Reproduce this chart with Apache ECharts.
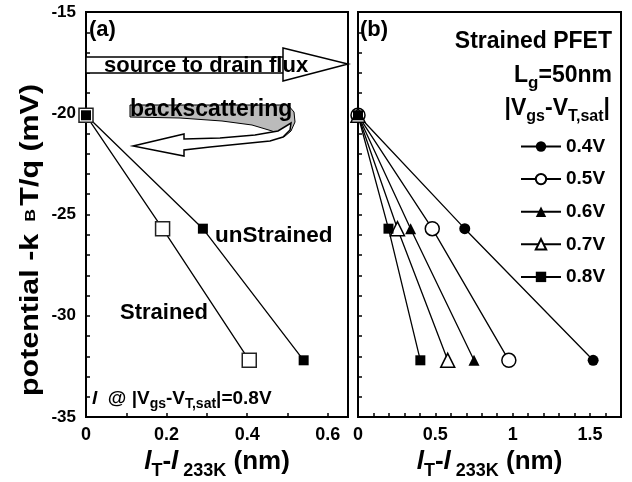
<!DOCTYPE html>
<html style="height: 100%">
	<head>
		<meta charset="utf-8">
	</head>
	<body style="height: 100%; margin: 0; background: #fff">
		<div id="container" style="width: 632px; height: 482px"></div>

		<script type="text/javascript" src="https://cdn.jsdelivr.net/npm/echarts@6/dist/echarts.min.js"></script>
		<script type="text/javascript">
			// potential levels (mV), shared by every curve
			const potential = [-20.1, -25.7, -32.2];
			// panel (a): lT - l233K (nm)
			const xStrained = [0, 0.19, 0.405];
			const xUnstrained = [0, 0.29, 0.54];
			// panel (b): strained PFET at several |Vgs-VT,sat|
			const vLabels = ['0.4V', '0.5V', '0.6V', '0.7V', '0.8V'];
			const x04 = [0, 0.69, 1.52];
			const x05 = [0, 0.48, 0.975];
			const x06 = [0, 0.34, 0.75];
			const x07 = [0, 0.255, 0.58];
			const x08 = [0, 0.197, 0.403];

			var dom = document.getElementById('container');
			var myChart = echarts.init(dom);
			var option;

			const FONT = 'Liberation Sans, Arial, sans-serif';

			function pairs(xs) {
				return xs.map(function (x, i) {
					return [x, potential[i]];
				});
			}

			function near(v, step) {
				return Math.abs(v / step - Math.round(v / step)) < 1e-6;
			}

			const filled = { color: '#000' };
			const open = { color: '#fff', borderColor: '#000', borderWidth: 1.5 };

			function mkSeries(name, xs, idx, symbol, size, style) {
				return {
					type: 'line',
					name: name,
					xAxisIndex: idx,
					yAxisIndex: idx,
					data: pairs(xs),
					symbol: symbol,
					symbolSize: size,
					showAllSymbol: true,
					clip: false,
					lineStyle: { color: '#000', width: 1.3 },
					itemStyle: style,
					emphasis: { disabled: true },
					animation: false
				};
			}

			const subRich = function (size, sub, lift) {
				return {
					n: { fontFamily: FONT, fontWeight: 'bold', fontSize: size, verticalAlign: 'bottom', padding: [0, 0, lift, 0] },
					i: { fontFamily: FONT, fontWeight: 'bold', fontStyle: 'italic', fontSize: size, verticalAlign: 'bottom', padding: [0, 0, lift, 0] },
					s: { fontFamily: FONT, fontWeight: 'bold', fontSize: sub, verticalAlign: 'bottom' }
				};
			};

			function mkX(idx, max, step) {
				return {
					gridIndex: idx,
					type: 'value',
					min: 0,
					max: max,
					interval: 0.1,
					name: '{i|l}{s|T}{n|-}{i|l}{s| 233K}{n| (nm)}',
					nameLocation: 'middle',
					nameGap: 29,
					nameTextStyle: { rich: subRich(26, 18, 5) },
					axisLine: { onZero: false, lineStyle: { color: '#000', width: 2 } },
					axisTick: { inside: true, length: 4, lineStyle: { color: '#000', width: 1.5 } },
					splitLine: { show: false },
					axisLabel: {
						color: '#000',
						fontFamily: FONT,
						fontWeight: 'bold',
						fontSize: 18,
						margin: 9,
						showMaxLabel: false,
						formatter: function (v) {
							return near(v, step) ? String(+v.toFixed(2)) : '';
						}
					}
				};
			}

			function mkY(idx, labels) {
				return {
					gridIndex: idx,
					type: 'value',
					min: -35,
					max: -15,
					interval: 1,
					axisLine: { onZero: false, lineStyle: { color: '#000', width: 2 } },
					axisTick: { inside: true, length: 4, lineStyle: { color: '#000', width: 1.5 } },
					splitLine: { show: false },
					axisLabel: {
						show: labels,
						color: '#000',
						fontFamily: FONT,
						fontWeight: 'bold',
						fontSize: 17,
						margin: 10,
						formatter: function (v) {
							return near(v, 5) ? String(v) : '';
						}
					}
				};
			}

			const bold = function (size) {
				return 'bold ' + size + 'px ' + FONT;
			};

			function label(x, y, text, size, align) {
				return {
					type: 'text', x: x, y: y, z: 11,
					style: { text: text, font: bold(size), fill: '#000', textAlign: align || 'left', textVerticalAlign: 'middle' }
				};
			}

			function richLabel(x, y, text, rich, align) {
				return {
					type: 'text', x: x, y: y, z: 11,
					style: { text: text, rich: rich, fill: '#000', textAlign: align || 'left', textVerticalAlign: 'middle' }
				};
			}

			// decorative outlines of the two flux arrows
			const grayBand = [[130, 105], [288, 105], [294, 112], [295, 122], [291, 131], [284, 137], [272, 131], [252, 125], [222, 121], [180, 118], [130, 117]];
			const backArrow = [[133, 146], [184, 134], [184, 139], [220, 138], [255, 135], [278, 131], [291, 123], [290, 130], [283, 137], [270, 141], [240, 144], [210, 147], [184, 150], [184, 156]];

			option = {
				backgroundColor: '#fff',
				animation: false,
				grid: [
					{ left: 86, right: 284, top: 12, bottom: 65, outerBoundsMode: 'none', show: true, borderColor: '#000', borderWidth: 2 },
					{ left: 358, right: 11, top: 12, bottom: 65, outerBoundsMode: 'none', show: true, borderColor: '#000', borderWidth: 2 }
				],
				xAxis: [mkX(0, 0.65, 0.2), mkX(1, 1.7, 0.5)],
				yAxis: [mkY(0, true), mkY(1, false)],
				legend: {
					data: vLabels,
					orient: 'vertical',
					left: 520,
					top: 137,
					padding: 0,
					itemWidth: 40,
					itemHeight: 13,
					itemGap: 13.6,
					selectedMode: false,
					textStyle: { color: '#000', fontFamily: FONT, fontWeight: 'bold', fontSize: 19, lineHeight: 18 }
				},
				graphic: [
					// y axis title
					{
						type: 'text', x: 31, y: 240, rotation: Math.PI / 2, scaleX: 1.17, z: 11,
						style: {
							text: 'potential -k {b|B}T/q (mV)',
							font: bold(26),
							rich: { b: { fontFamily: FONT, fontWeight: 'bold', fontSize: 15, padding: [0, 3, 0, 3] } },
							fill: '#000', textAlign: 'center', textVerticalAlign: 'middle'
						}
					},
					// source to drain arrow
					{ type: 'rect', shape: { x: 86, y: 57, width: 198, height: 16 }, style: { fill: '#fff', stroke: '#000', lineWidth: 1.5 }, z: 10 },
					{ type: 'polygon', shape: { points: [[283, 48], [348, 64], [283, 81]] }, style: { fill: '#fff', stroke: '#000', lineWidth: 1.5 }, z: 10 },
					label(104, 66, 'source to drain flux', 22),
					// backscattering arrow
					{ type: 'polygon', shape: { points: grayBand }, style: { fill: '#bbb', stroke: '#000', lineWidth: 1 }, z: 10 },
					{ type: 'polygon', shape: { points: backArrow }, style: { fill: '#fff', stroke: '#000', lineWidth: 1.5 }, z: 10 },
					label(130, 110, 'backscattering', 23),
					// panel texts
					label(89, 30, '(a)', 22),
					label(360, 30, '(b)', 22),
					label(215, 236, 'unStrained', 22.5),
					label(120, 313, 'Strained', 22),
					richLabel(92, 400, '{i|l}{n|  @ |V}{s|gs}{n|-V}{s|T,sat}{n||=0.8V}', subRich(19, 14, 3)),
					label(612, 42, 'Strained PFET', 23, 'right'),
					richLabel(612, 78, '{n|L}{s|g}{n|=50nm}', subRich(23, 17, 4), 'right'),
					richLabel(610, 111, '{n||V}{s|gs}{n|-V}{s|T,sat}{n||}', subRich(23, 16, 4), 'right')
				],
				series: [
					mkSeries('Strained', xStrained, 0, 'rect', 14, { color: '#fff', borderColor: '#222', borderWidth: 1.5 }),
					mkSeries('unStrained', xUnstrained, 0, 'rect', 10, filled),
					mkSeries(vLabels[0], x04, 1, 'circle', 11, filled),
					mkSeries(vLabels[1], x05, 1, 'circle', 14, open),
					mkSeries(vLabels[2], x06, 1, 'triangle', 11, filled),
					mkSeries(vLabels[3], x07, 1, 'triangle', 14, open),
					mkSeries(vLabels[4], x08, 1, 'rect', 10, filled)
				]
			};

			if (option && typeof option === 'object') {
				myChart.setOption(option);
			}
		</script>
	</body>
</html>
